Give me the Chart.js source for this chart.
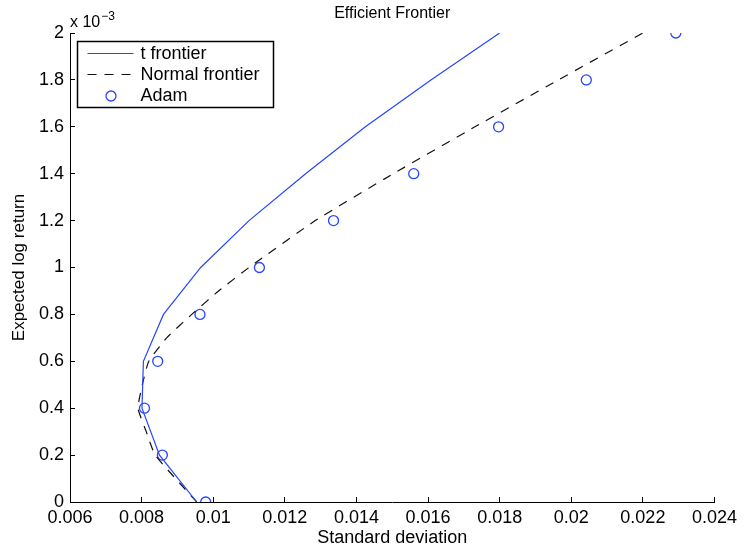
<!DOCTYPE html>
<html>
<head>
<meta charset="utf-8">
<title>Efficient Frontier</title>
<script src="https://cdn.jsdelivr.net/npm/chart.js@4.4.1/dist/chart.umd.min.js"></script>
<style>
    html, body { margin: 0; padding: 0; background: #fff; }
    #wrap { width: 747px; height: 551px; }
</style>
</head>
<body>
<div id="wrap"><canvas id="frontierChart"></canvas></div>
<script>

// expected log return levels, in units of 1e-3
var returnLevels = [0, 0.2, 0.4, 0.6, 0.8, 1.0, 1.2, 1.4, 1.6, 1.8, 2.0];
var tFrontierStd = [0.00954, 0.0085, 0.00801, 0.00805, 0.00861, 0.00965, 0.0110, 0.01258, 0.01425, 0.01608, 0.0180];
var adamStd = [0.00979, 0.00858, 0.00808, 0.00845, 0.00963, 0.01129, 0.01336, 0.01560, 0.01797, 0.02042, 0.02292];

// normal frontier, sampled a bit finer round the bend
var normalReturns = [0, 0.2, 0.3, 0.4, 0.5, 0.6, 0.7, 0.8, 0.9, 1.0, 1.2, 1.4, 1.6, 1.8, 2.0];
var normalStd = [0.00954, 0.00838, 0.00813, 0.0079, 0.00802, 0.0082, 0.0087, 0.0094, 0.01015, 0.0110, 0.01285, 0.01503, 0.01731, 0.01964, 0.0220];

var xTickLabels = ['0.006', '0.008', '0.01', '0.012', '0.014', '0.016', '0.018', '0.02', '0.022', '0.024'];
var yTickLabels = ['0', '0.2', '0.4', '0.6', '0.8', '1', '1.2', '1.4', '1.6', '1.8', '2'];

var blue = 'rgb(38,70,255)';
var fontFamily = '"Liberation Sans", Arial, Helvetica, sans-serif';

function toPoints(xs, ys) {
    var pts = [];
    for (var i = 0; i < xs.length; i++) {
        pts.push({x: xs[i], y: ys[i]});
    }
    return pts;
}

var frontierData = {
    datasets: [
        {
            label: 't frontier',
            data: toPoints(tFrontierStd, returnLevels),
            showLine: true,
            borderColor: blue,
            borderWidth: 1.2,
            pointRadius: 0,
            tension: 0
        },
        {
            label: 'Normal frontier',
            data: toPoints(normalStd, normalReturns),
            showLine: true,
            borderColor: '#111',
            borderWidth: 1.2,
            borderDash: [9, 8],
            pointRadius: 0,
            tension: 0.15
        },
        {
            label: 'Adam',
            data: toPoints(adamStd, returnLevels),
            showLine: false,
            pointStyle: 'circle',
            pointRadius: 5,
            pointBorderWidth: 1.3,
            pointBorderColor: blue,
            pointBackgroundColor: 'rgba(0,0,0,0)'
        }
    ]
};

// title, exponent note and the boxed legend are drawn by hand
var annotations = {
    id: 'annotations',
    afterDraw: function (chart) {
        var ctx = chart.ctx;
        var area = chart.chartArea;
        ctx.save();
        ctx.fillStyle = '#000';

        ctx.font = '16px ' + fontFamily;
        ctx.textAlign = 'center';
        ctx.textBaseline = 'middle';
        ctx.fillText('Efficient Frontier', (area.left + area.right) / 2, 14);

        ctx.textAlign = 'left';
        ctx.textBaseline = 'alphabetic';
        ctx.font = '16px ' + fontFamily;
        ctx.fillText('x 10', area.left, 27);
        var w = ctx.measureText('x 10').width;
        ctx.font = '12px ' + fontFamily;
        ctx.fillText('\u22123', area.left + w + 1, 20);

        // legend box
        var bx = area.left + 7.5, by = 41.5;
        ctx.lineWidth = 1.5;
        ctx.strokeStyle = '#000';
        ctx.setLineDash([]);
        ctx.strokeRect(bx, by, 196, 66);

        var rows = [53.5, 74.5, 95.5];
        var sets = chart.data.datasets;
        ctx.font = '18px ' + fontFamily;
        ctx.textBaseline = 'middle';
        for (var i = 0; i < sets.length; i++) {
            var ds = sets[i];
            var y = rows[i];
            if (ds.showLine) {
                ctx.beginPath();
                ctx.lineWidth = ds.borderWidth;
                ctx.strokeStyle = ds.borderColor;
                ctx.setLineDash(ds.borderDash || []);
                ctx.moveTo(bx + 10, y);
                ctx.lineTo(bx + 56, y);
                ctx.stroke();
            } else {
                ctx.beginPath();
                ctx.lineWidth = ds.pointBorderWidth;
                ctx.strokeStyle = ds.pointBorderColor;
                ctx.setLineDash([]);
                ctx.arc(bx + 33.5, y + 0.5, ds.pointRadius, 0, Math.PI * 2);
                ctx.stroke();
            }
            ctx.fillStyle = '#000';
            ctx.fillText(ds.label, bx + 63, y + 1);
        }
        ctx.restore();
    }
};

var frontierOptions = {
    responsive: true,
    maintainAspectRatio: false,
    animation: false,
    layout: {
        padding: {top: 33, right: 29, bottom: 0, left: 0}
    },
    plugins: {
        legend: {display: false},
        tooltip: {enabled: false}
    },
    scales: {
        x: {
            type: 'linear',
            position: 'bottom',
            min: 0.006,
            max: 0.024,
            afterBuildTicks: function (scale) {
                scale.ticks = xTickLabels.map(function (t) { return {value: parseFloat(t)}; });
            },
            afterFit: function (scale) { scale.height = 49; },
            ticks: {
                autoSkip: false,
                maxRotation: 0,
                padding: 10,
                color: '#000',
                font: {size: 18, family: fontFamily},
                callback: function (value, index) { return xTickLabels[index]; }
            },
            grid: {
                drawOnChartArea: false,
                drawTicks: true,
                tickLength: -5,
                color: '#000',
                lineWidth: 1
            },
            border: {display: true, color: '#000', width: 1},
            title: {
                display: true,
                text: 'Standard deviation',
                color: '#000',
                font: {size: 18, family: fontFamily},
                padding: {top: 0, bottom: 2}
            }
        },
        y: {
            type: 'linear',
            position: 'left',
            min: 0,
            max: 2,
            afterBuildTicks: function (scale) {
                scale.ticks = yTickLabels.map(function (t) { return {value: parseFloat(t)}; });
            },
            afterFit: function (scale) { scale.width = 70; },
            ticks: {
                autoSkip: false,
                padding: 11,
                color: '#000',
                font: {size: 18, family: fontFamily},
                callback: function (value, index) { return yTickLabels[index]; }
            },
            grid: {
                drawOnChartArea: false,
                drawTicks: true,
                tickLength: -5,
                color: '#000',
                lineWidth: 1
            },
            border: {display: true, color: '#000', width: 1},
            title: {
                display: true,
                text: 'Expected log return',
                color: '#000',
                font: {size: 17, family: fontFamily},
                padding: {top: 9, bottom: 0}
            }
        }
    }
};

var ctx = document.getElementById('frontierChart').getContext('2d');
new Chart(ctx, {type: 'scatter', data: frontierData, options: frontierOptions, plugins: [annotations]});

</script>
</body>
</html>
